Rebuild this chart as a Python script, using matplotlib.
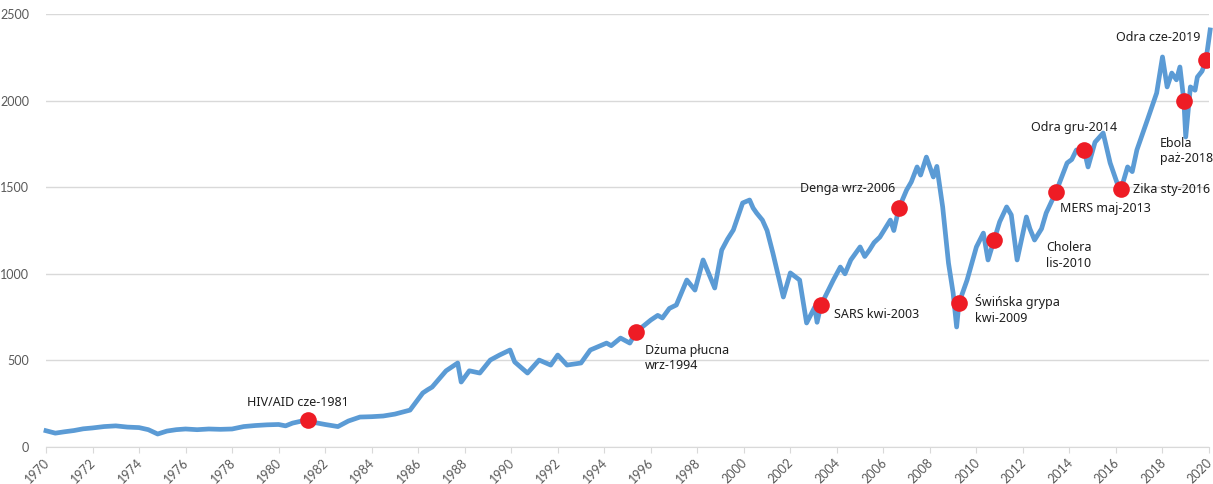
import matplotlib
matplotlib.use("Agg")
import matplotlib.pyplot as plt
from matplotlib.transforms import ScaledTranslation

# index level (year, value)
years = [1970.0, 1970.4, 1970.8, 1971.2, 1971.6, 1972.0, 1972.5, 1973.0, 1973.5, 1974.0,
         1974.4, 1974.8, 1975.2, 1975.6, 1976.0, 1976.5, 1977.0, 1977.5, 1978.0, 1978.5,
         1979.0, 1979.5, 1980.0, 1980.3, 1980.6, 1981.0, 1981.26, 1981.6, 1982.0, 1982.55,
         1983.0, 1983.5, 1984.0, 1984.5, 1985.0, 1985.65, 1986.2, 1986.4, 1986.6, 1987.2,
         1987.7, 1987.85, 1988.2, 1988.65, 1989.1, 1989.5, 1989.95, 1990.15, 1990.7, 1991.2,
         1991.7, 1992.0, 1992.4, 1993.0, 1993.4, 1994.1, 1994.3, 1994.7, 1995.1, 1995.37,
         1996.0, 1996.3, 1996.5, 1996.8, 1997.1, 1997.55, 1997.9, 1998.25, 1998.75, 1999.05,
         1999.3, 1999.55, 1999.95, 2000.25, 2000.4, 2000.55, 2000.8, 2001.0, 2001.25, 2001.7,
         2002.0, 2002.4, 2002.7, 2003.05, 2003.15, 2003.32, 2003.85, 2004.15, 2004.35, 2004.6,
         2005.0, 2005.2, 2005.4, 2005.6, 2005.85, 2006.3, 2006.45, 2006.67, 2007.0, 2007.2,
         2007.45, 2007.6, 2007.85, 2008.15, 2008.3, 2008.55, 2008.8, 2009.0, 2009.15, 2009.25,
         2009.6, 2010.0, 2010.3, 2010.5, 2010.76, 2011.0, 2011.3, 2011.5, 2011.75, 2012.15,
         2012.3, 2012.5, 2012.8, 2013.0, 2013.42, 2013.9, 2014.1, 2014.3, 2014.63, 2014.8,
         2015.1, 2015.45, 2015.75, 2016.05, 2016.22, 2016.5, 2016.7, 2016.9, 2017.35, 2017.75,
         2018.0, 2018.2, 2018.4, 2018.6, 2018.75, 2018.92, 2019.0, 2019.2, 2019.4, 2019.5,
         2019.7, 2019.87, 2020.05]
values = [94, 80, 88, 95, 105, 110, 118, 122, 115, 112,
          100, 75, 92, 100, 104, 100, 104, 102, 104, 118,
          124, 128, 130, 122, 138, 150, 156, 140, 130, 118,
          150, 173, 175, 179, 190, 213, 312, 330, 346, 440,
          485, 375, 440, 427, 502, 531, 560, 491, 427, 502,
          473, 531, 473, 485, 560, 600, 585, 629, 600, 664,
          733, 760, 745, 800, 820, 964, 906, 1080, 918, 1137,
          1200, 1253, 1409, 1426, 1380, 1351, 1310, 1250, 1120, 866,
          1005, 964, 716, 808, 720, 820, 964, 1039, 1000, 1080,
          1155, 1100, 1137, 1180, 1212, 1310, 1250, 1380, 1484, 1530,
          1617, 1570, 1674, 1559, 1620, 1386, 1062, 889, 693, 831,
          964, 1155, 1235, 1080, 1195, 1300, 1386, 1340, 1080, 1328,
          1260, 1195, 1260, 1351, 1472, 1640, 1660, 1715, 1715, 1617,
          1760, 1813, 1640, 1524, 1490, 1617, 1590, 1715, 1888, 2044,
          2252, 2079, 2159, 2120, 2194, 1998, 1790, 2079, 2060, 2136,
          2170, 2234, 2408]

# epidemics marked on the chart
event_labels = ["HIV/AID cze-1981", "Dżuma płucna\nwrz-1994", "SARS kwi-2003",
                "Denga wrz-2006", "Świńska grypa\nkwi-2009", "Cholera\nlis-2010",
                "MERS maj-2013", "Odra gru-2014", "Zika sty-2016",
                "Ebola\npaż-2018", "Odra cze-2019"]
event_years = [1981.26, 1995.37, 2003.32, 2006.67, 2009.25, 2010.76,
               2013.42, 2014.63, 2016.22, 2018.92, 2019.87]
event_values = [156, 664, 820, 1380, 831, 1195, 1472, 1715, 1490, 1998, 2234]

# label placement: offset in pixels from the dot, alignment
label_pos = [((-10, 17), "center", "center"),
             ((9, -12), "left", "top"),
             ((13, -10), "left", "center"),
             ((-4, 19), "right", "center"),
             ((16, 9), "left", "top"),
             ((52, -1), "left", "top"),
             ((4, -16), "left", "center"),
             ((-53, 22), "left", "center"),
             ((12, -1), "left", "center"),
             ((-24, -36), "left", "top"),
             ((-6, 23), "right", "center")]

fig = plt.figure(figsize=(12.13, 4.84), dpi=100)
ax = fig.add_axes([46 / 1213, 37 / 484, 1163 / 1213, 433 / 484])

ax.plot(years, values, color="#5B9BD5", linewidth=3.4, solid_joinstyle="round",
        clip_on=False, zorder=2)
ax.plot(event_years, event_values, "o", color="#EE1C25", markersize=12,
        markeredgewidth=0, zorder=3)

for lab, x, y, (off, ha, va) in zip(event_labels, event_years, event_values, label_pos):
    ax.annotate(lab, (x, y), xytext=off, textcoords="offset pixels",
                ha=ha, va=va, fontsize=9, family="Noto Sans", color="#1E1E1E",
                linespacing=1.25, zorder=4)

ax.set_xlim(1970, 2020)
ax.set_ylim(0, 2500)
ax.set_yticks(range(0, 2501, 500))
ax.set_xticks(range(1970, 2021, 2))
ax.set_xticklabels([str(y) for y in range(1970, 2021, 2)], rotation=45,
                   ha="right", rotation_mode="anchor")

ax.grid(axis="y", color="#D9D9D9", linewidth=1)
ax.set_axisbelow(True)
for s in ["top", "right", "left"]:
    ax.spines[s].set_visible(False)
ax.spines["bottom"].set_color("#D9D9D9")
ax.tick_params(axis="y", length=0, pad=12, labelsize=9, labelcolor="#595959")
ax.tick_params(axis="x", length=4, color="#D9D9D9", pad=3, labelsize=9,
               labelcolor="#595959")
shift = ScaledTranslation(-3 / 100, 0, fig.dpi_scale_trans)
for t in ax.get_xticklabels():
    t.set_transform(t.get_transform() + shift)
for t in ax.get_xticklabels() + ax.get_yticklabels():
    t.set_family("Lato")

fig.savefig("out.png", dpi=100)
